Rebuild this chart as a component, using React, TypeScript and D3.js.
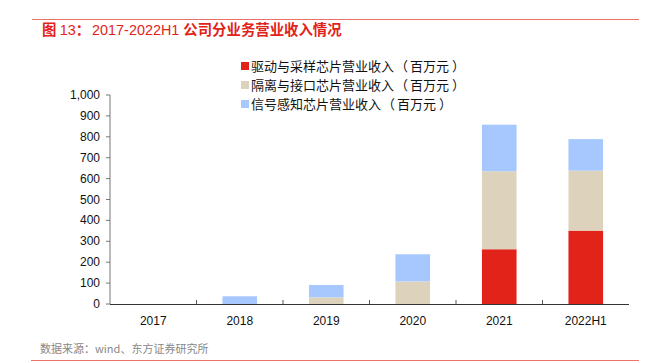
import React from "react";
import * as d3 from "d3";

const categories = ["2017", "2018", "2019", "2020", "2021", "2022H1"];
const driveSampling = [0, 0, 0, 0, 262, 351];
const isolationInterface = [0, 0, 32, 108, 373, 287];
const signalSensing = [0, 37, 59, 130, 223, 151];
const seriesNames = [
  "驱动与采样芯片营业收入",
  "隔离与接口芯片营业收入",
  "信号感知芯片营业收入",
];
const unitLabel = "百万元";
const colors = ["#E2231A", "#DDD3BD", "#A7C8FF"];
const yTicks = [0, 100, 200, 300, 400, 500, 600, 700, 800, 900, 1000];

export default function App() {
  const W = 648, H = 363;
  const left = 110, right = 629, top = 95, bottom = 304;
  const x = d3.scaleBand<string>().domain(categories).range([left, right]).paddingInner(0.6).paddingOuter(0.3);
  const xb = d3.scaleBand<string>().domain(categories).range([left, right]);
  const y = d3.scaleLinear().domain([0, 1000]).range([bottom, top]);
  const data = categories.map((c, i) => ({
    cat: c,
    s0: driveSampling[i],
    s1: isolationInterface[i],
    s2: signalSensing[i],
  }));
  const stack = d3.stack<any>().keys(["s0", "s1", "s2"])(data);
  const fmt = d3.format(",");
  const font = "'Liberation Sans', Arial, sans-serif";
  const cjk = "'Noto Sans CJK SC', sans-serif";
  return (
    <svg width={W} height={H} style={{ position: "absolute", left: 0, top: 0, background: "#fff" }}>
      <line x1={32} x2={639} y1={19.5} y2={19.5} stroke="#E8716C" strokeWidth={1.2} />
      <text x={42} y={35} fill="#E2231A" fontSize={14.4}>
        <tspan fontFamily={cjk} fontWeight="bold">图 </tspan>
        <tspan fontFamily={font}>13</tspan>
        <tspan fontFamily={cjk} fontWeight="bold">：</tspan>
        <tspan fontFamily={font} dx={2}>2017-2022H1 </tspan>
        <tspan fontFamily={cjk} fontWeight="bold">公司分业务营业收入情况</tspan>
      </text>
      {seriesNames.map((n, i) => (
        <g key={n} transform={`translate(241, ${66 + i * 19})`}>
          <rect x={0} y={-4} width={8} height={8} fill={colors[i]} />
          <text x={10} y={5} fontSize={13} fontFamily={cjk} fill="#111">
            {n}
            <tspan dx={1}>（</tspan>
            <tspan dx={2}>{unitLabel}</tspan>
            <tspan dx={3}>）</tspan>
          </text>
        </g>
      ))}
      {stack.map((layer, li) => (
        <g key={li} fill={colors[li]}>
          {layer.map((d, i) => {
            const h = y(d[0]) - y(d[1]);
            if (h <= 0) return null;
            return <rect key={i} x={x(categories[i])} width={x.bandwidth()} y={y(d[1])} height={h} />;
          })}
        </g>
      ))}
      <line x1={left} x2={left} y1={top} y2={bottom} stroke="#777" />
      <line x1={left} x2={right} y1={bottom + 0.5} y2={bottom + 0.5} stroke="#333" />
      {yTicks.map((t) => (
        <g key={t}>
          <line x1={left - 4} x2={left} y1={y(t)} y2={y(t)} stroke="#777" />
          <text x={left - 10} y={y(t) + 4} textAnchor="end" fontSize={12} fontFamily={font} fill="#111">{fmt(t)}</text>
        </g>
      ))}
      {categories.map((c, i) => (
        <g key={c}>
          {i > 0 && <line x1={xb(c)!} x2={xb(c)!} y1={bottom} y2={bottom - 4} stroke="#555" />}
          <text x={xb(c)! + xb.bandwidth() / 2} y={bottom + 21} textAnchor="middle" fontSize={12} fontFamily={font} fill="#111">{c}</text>
        </g>
      ))}
      <text x={40} y={353} fontSize={11} fill="#888" fontFamily={cjk}>数据来源：wind、东方证券研究所</text>
      <line x1={31} x2={639} y1={360.5} y2={360.5} stroke="#F0706A" strokeWidth={1.2} />
    </svg>
  );
}
